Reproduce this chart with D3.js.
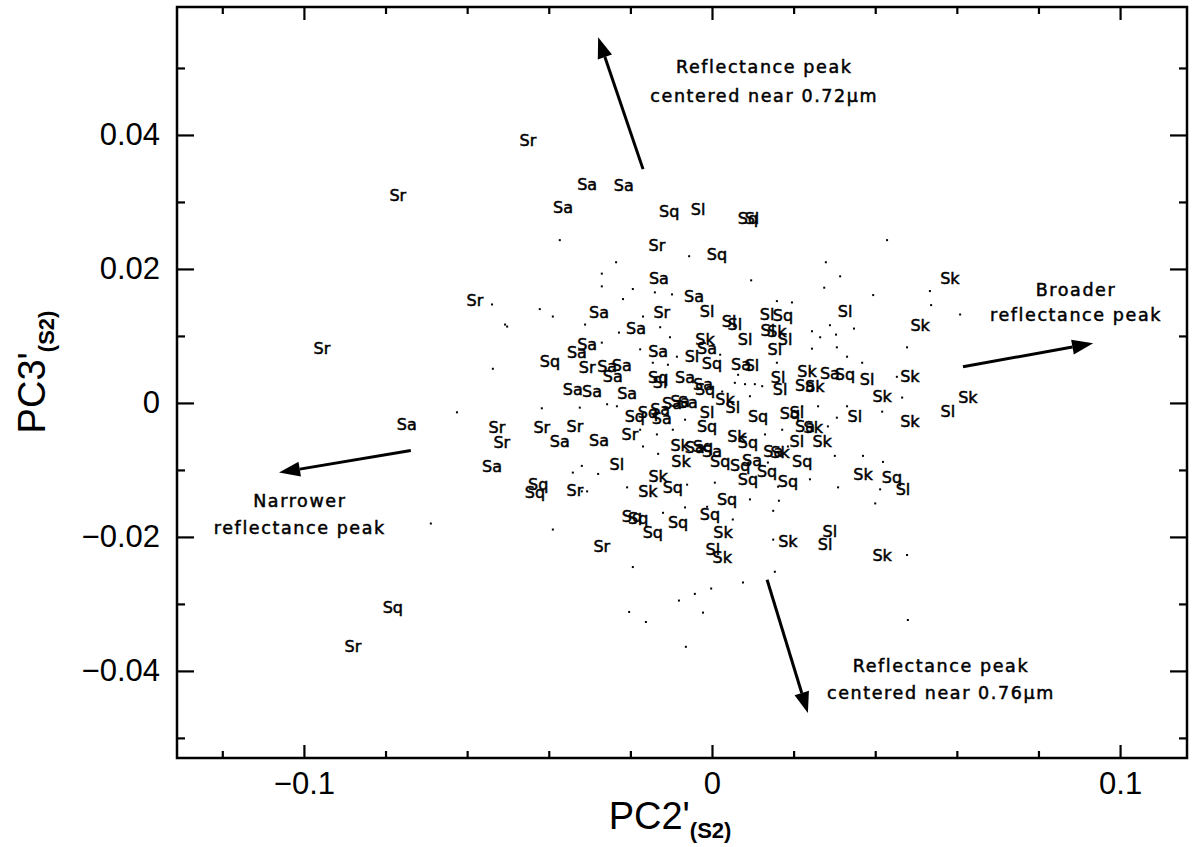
<!DOCTYPE html>
<html>
<head>
<meta charset="utf-8">
<script src="https://cdn.jsdelivr.net/npm/d3@7"></script>
<style>
  html, body { margin: 0; padding: 0; background: #fff; }
  svg { display: block; }
  .tag { font-family: "DejaVu Sans", sans-serif; font-size: 16px; fill: #000; stroke: #000; stroke-width: 0.5px; }
  .note { font-family: "DejaVu Sans", sans-serif; font-size: 17.5px; letter-spacing: 1.6px; fill: #000; stroke: #000; stroke-width: 0.5px; }
  .tick text { font-family: "Liberation Sans", Arial, sans-serif; font-size: 31px; fill: #000; }
  .title { font-family: "Liberation Sans", Arial, sans-serif; fill: #000; }
</style>
</head>
<body>
<svg id="chart" width="1192" height="847"></svg>
<script>
// PC2'(S2) / PC3'(S2) scores, grouped by spectral class
const srPoints = [
  [-0.0451, 0.0391], [-0.0770, 0.0310], [-0.0135, 0.0235], [-0.0581, 0.0153],
  [-0.0123, 0.0135], [-0.0956, 0.0081], [-0.0306, 0.0053], [-0.0527, -0.0037],
  [-0.0515, -0.0059], [-0.0417, -0.0037], [-0.0336, -0.0035], [-0.0201, -0.0047],
  [-0.0336, -0.0131], [-0.0270, -0.0215], [-0.0880, -0.0364]
];
const saPoints = [
  [-0.0306, 0.0326], [-0.0216, 0.0325], [-0.0365, 0.0291], [-0.0130, 0.0186],
  [-0.0044, 0.0159], [-0.0277, 0.0135], [-0.0186, 0.0111], [-0.0012, 0.0081],
  [-0.0306, 0.0087], [-0.0331, 0.0075], [-0.0132, 0.0077], [-0.0257, 0.0054],
  [-0.0221, 0.0056], [-0.0243, 0.0039], [0.0071, 0.0057], [0.0289, 0.0044],
  [-0.0066, 0.0038], [-0.0022, 0.0028], [-0.0341, 0.0020], [-0.0294, 0.0017],
  [-0.0208, 0.0014], [0.0228, 0.0026], [-0.0748, -0.0032], [-0.0373, -0.0058],
  [-0.0277, -0.0056], [-0.0127, -0.0010], [-0.0098, -0.0001], [-0.0078, 0.0002],
  [-0.0059, 0.0001], [-0.0123, -0.0023], [0.0228, -0.0035], [-0.0042, -0.0067],
  [0.0000, -0.0073], [0.0150, -0.0073], [-0.0539, -0.0095], [0.0098, -0.0086]
];
const sqPoints = [
  [-0.0105, 0.0286], [0.0088, 0.0276], [0.0012, 0.0222], [0.0174, 0.0131],
  [-0.0397, 0.0062], [0.0000, 0.0059], [0.0326, 0.0042], [-0.0132, 0.0038],
  [-0.0017, 0.0020], [0.0113, -0.0020], [0.0191, -0.0016], [-0.0189, -0.0020],
  [-0.0157, -0.0014], [-0.0012, -0.0035], [0.0088, -0.0059], [-0.0022, -0.0065],
  [0.0221, -0.0088], [0.0020, -0.0088], [0.0069, -0.0094], [0.0135, -0.0103],
  [0.0088, -0.0114], [0.0186, -0.0117], [0.0441, -0.0112], [-0.0096, -0.0126],
  [-0.0426, -0.0122], [-0.0434, -0.0134], [0.0037, -0.0144], [-0.0005, -0.0167],
  [-0.0196, -0.0170], [-0.0181, -0.0173], [-0.0083, -0.0179], [-0.0145, -0.0194],
  [-0.0782, -0.0306]
];
const slPoints = [
  [-0.0034, 0.0288], [0.0098, 0.0276], [-0.0012, 0.0137], [0.0135, 0.0132],
  [0.0326, 0.0137], [0.0042, 0.0122], [0.0056, 0.0117], [0.0137, 0.0108],
  [0.0081, 0.0095], [0.0179, 0.0095], [0.0154, 0.0080], [-0.0049, 0.0069],
  [0.0098, 0.0056], [0.0380, 0.0035], [0.0162, 0.0038], [-0.0127, 0.0030],
  [0.0167, 0.0020], [0.0578, -0.0013], [0.0051, -0.0007], [-0.0012, -0.0014],
  [0.0208, -0.0014], [0.0350, -0.0020], [0.0208, -0.0058], [-0.0233, -0.0092],
  [0.0468, -0.0129], [0.0289, -0.0192], [0.0277, -0.0212], [0.0002, -0.0219]
];
const skPoints = [
  [0.0583, 0.0186], [0.0510, 0.0116], [0.0159, 0.0107], [-0.0017, 0.0095],
  [0.0233, 0.0047], [0.0485, 0.0039], [0.0252, 0.0025], [0.0417, 0.0010],
  [0.0627, 0.0008], [0.0032, 0.0005], [0.0485, -0.0028], [0.0248, -0.0037],
  [0.0061, -0.0050], [0.0270, -0.0058], [-0.0078, -0.0064], [0.0167, -0.0074],
  [-0.0076, -0.0088], [0.0370, -0.0107], [-0.0132, -0.0110], [-0.0157, -0.0132],
  [0.0027, -0.0194], [0.0186, -0.0207], [0.0025, -0.0231], [0.0417, -0.0227]
];
// remaining objects, plotted as small dots
const otherPoints = [
  [-0.0373, 0.0243], [-0.0056, 0.0219], [-0.0235, 0.0210], [-0.0270, 0.0193],
  [-0.0270, 0.0174], [-0.0194, 0.0170], [-0.0140, 0.0165], [-0.0098, 0.0162],
  [-0.0539, 0.0147], [-0.0422, 0.0140], [-0.0390, 0.0129], [-0.0218, 0.0155],
  [-0.0169, 0.0129], [-0.0502, 0.0114], [-0.0311, 0.0117], [0.0429, 0.0243],
  [0.0279, 0.0210], [0.0314, 0.0189], [0.0096, 0.0183], [0.0275, 0.0172],
  [0.0395, 0.0161], [0.0534, 0.0167], [0.0537, 0.0146], [0.0608, 0.0132],
  [0.0159, 0.0152], [0.0196, 0.0150], [0.0245, 0.0107], [0.0289, 0.0116],
  [0.0348, 0.0111], [0.0304, 0.0102], [0.0265, 0.0098], [0.0478, 0.0083],
  [0.0306, 0.0083], [0.0245, 0.0081], [0.0331, 0.0069], [0.0368, 0.0060],
  [0.0453, 0.0039], [0.0466, 0.0008], [0.0331, -0.0005], [0.0417, -0.0013],
  [0.0306, -0.0022], [0.0284, -0.0035], [0.0301, -0.0079], [0.0370, -0.0079],
  [0.0419, -0.0088], [0.0309, -0.0126], [0.0412, -0.0129], [0.0400, -0.0150],
  [0.0240, -0.0114], [0.0478, -0.0227], [0.0150, -0.0161], [0.0164, -0.0146],
  [0.0093, -0.0144], [0.0150, -0.0204], [-0.0507, 0.0117], [-0.0228, 0.0105],
  [-0.0270, 0.0090], [-0.0537, 0.0051], [-0.0625, -0.0014], [-0.0417, -0.0008],
  [-0.0324, -0.0007], [-0.0257, -0.0002], [-0.0390, -0.0189], [-0.0194, -0.0245],
  [-0.0341, -0.0104], [-0.0279, -0.0106], [-0.0208, -0.0126], [-0.0169, -0.0065],
  [-0.0132, -0.0076], [-0.0061, -0.0122], [-0.0120, -0.0164], [-0.0066, -0.0156],
  [-0.0319, -0.0094], [-0.0319, -0.0132], [-0.0306, -0.0132], [-0.0176, 0.0080],
  [-0.0145, 0.0060], [-0.0108, 0.0057], [-0.0086, 0.0069], [-0.0103, 0.0098],
  [-0.0127, 0.0113], [0.0154, -0.0252], [0.0076, -0.0268], [-0.0002, -0.0277],
  [-0.0042, -0.0285], [-0.0081, -0.0295], [-0.0203, -0.0312], [-0.0162, -0.0327],
  [-0.0022, -0.0313], [-0.0064, -0.0364], [0.0480, -0.0324], [-0.0689, -0.0180],
  [0.0056, 0.0030], [0.0081, 0.0028], [0.0105, 0.0028], [0.0123, 0.0025],
  [0.0064, 0.0042], [0.0025, 0.0017], [0.0093, 0.0010], [0.0020, 0.0072],
  [0.0159, 0.0060], [0.0240, 0.0050], [0.0221, -0.0005], [0.0260, -0.0005],
  [0.0172, -0.0040], [0.0130, -0.0047], [0.0186, -0.0065], [0.0137, -0.0089],
  [0.0162, -0.0125], [0.0007, -0.0119], [-0.0012, -0.0155], [0.0051, -0.0174],
  [-0.0066, -0.0025], [-0.0096, -0.0040], [-0.0135, -0.0047], [-0.0176, -0.0040],
  [-0.0233, -0.0005]
];

// axis ticks
const xMajorTicks = [-0.1, 0, 0.1];
const xTickLabels = ["\u22120.1", "0", "0.1"];
const xMinorTicks = [-0.12, -0.08, -0.06, -0.04, -0.02, 0.02, 0.04, 0.06, 0.08];
const yMajorTicks = [0.04, 0.02, 0, -0.02, -0.04];
const yTickLabels = ["0.04", "0.02", "0", "\u22120.02", "\u22120.04"];
const yMinorTicks = [0.05, 0.03, 0.01, -0.01, -0.03, -0.05];

// direction arrows: [from, to] in PC2'/PC3' units, with their captions
const arrows = [
  { from: [-0.0169, 0.0349], to: [-0.0279, 0.0546], text: ["Reflectance peak", "centered near 0.72\u03bcm"], at: [0.0128, 0.0501, 0.0458] },
  { from: [0.0615, 0.0054], to: [0.0934, 0.0089], text: ["Broader", "reflectance peak"], at: [0.0892, 0.0168, 0.0131] },
  { from: [-0.0738, -0.0071], to: [-0.1061, -0.0104], text: ["Narrower", "reflectance peak"], at: [-0.1010, -0.0146, -0.0186] },
  { from: [0.0135, -0.0264], to: [0.0235, -0.0463], text: ["Reflectance peak", "centered near 0.76\u03bcm"], at: [0.0561, -0.0393, -0.0433] }
];

const svg = d3.select("#chart");
const x = d3.scaleLinear().domain([-0.1311, 0.1164]).range([177, 1187]);
const y = d3.scaleLinear().domain([-0.0530, 0.0591]).range([758, 7]);
const [x0, x1] = x.range();
const [y0, y1] = y.range();

const fmtFrom = (vals, labels) => d => labels[vals.indexOf(d)];

function styleAxis(g) {
  g.select(".domain").remove();
  g.selectAll(".tick line").attr("stroke", "#000").attr("stroke-width", 2.2);
}

// bottom
svg.append("g").attr("transform", `translate(0,${y0})`)
  .call(d3.axisBottom(x).tickValues(xMajorTicks).tickSize(-13).tickPadding(14)
    .tickFormat(fmtFrom(xMajorTicks, xTickLabels)))
  .call(styleAxis);
svg.append("g").attr("transform", `translate(0,${y0})`)
  .call(d3.axisBottom(x).tickValues(xMinorTicks).tickSize(-7).tickFormat(""))
  .call(styleAxis);
// top
svg.append("g").attr("transform", `translate(0,${y1})`)
  .call(d3.axisTop(x).tickValues(xMajorTicks).tickSize(-13).tickFormat(""))
  .call(styleAxis);
svg.append("g").attr("transform", `translate(0,${y1})`)
  .call(d3.axisTop(x).tickValues(xMinorTicks).tickSize(-7).tickFormat(""))
  .call(styleAxis);
// left
svg.append("g").attr("transform", `translate(${x0},0)`)
  .call(d3.axisLeft(y).tickValues(yMajorTicks).tickSize(-17).tickPadding(17)
    .tickFormat(fmtFrom(yMajorTicks, yTickLabels)))
  .call(styleAxis);
svg.append("g").attr("transform", `translate(${x0},0)`)
  .call(d3.axisLeft(y).tickValues(yMinorTicks).tickSize(-8).tickFormat(""))
  .call(styleAxis);
// right
svg.append("g").attr("transform", `translate(${x1},0)`)
  .call(d3.axisRight(y).tickValues(yMajorTicks).tickSize(-17).tickFormat(""))
  .call(styleAxis);
svg.append("g").attr("transform", `translate(${x1},0)`)
  .call(d3.axisRight(y).tickValues(yMinorTicks).tickSize(-8).tickFormat(""))
  .call(styleAxis);

// frame
svg.append("rect")
  .attr("x", x0).attr("y", y1).attr("width", x1 - x0).attr("height", y0 - y1)
  .attr("fill", "none").attr("stroke", "#000").attr("stroke-width", 2.5);

// axis titles
const xt = svg.append("text").attr("class", "title")
  .attr("x", 670).attr("y", 829).attr("text-anchor", "middle");
xt.append("tspan").attr("font-size", 38).text("PC2'");
xt.append("tspan").attr("font-size", 22).attr("font-weight", "bold").attr("dy", 9).text("(S2)");

const yt = svg.append("text").attr("class", "title")
  .attr("transform", "translate(45,372) rotate(-90)").attr("text-anchor", "middle");
yt.append("tspan").attr("font-size", 38).text("PC3'");
yt.append("tspan").attr("font-size", 22).attr("font-weight", "bold").attr("dy", 9).text("(S2)");

// unlabelled objects
svg.append("g").selectAll("rect").data(otherPoints).join("rect")
  .attr("x", d => x(d[0]) - 1).attr("y", d => y(d[1]) - 1)
  .attr("width", 2).attr("height", 2).attr("fill", "#000");

// class tags drawn at each object's position
const classes = [
  ["Sr", srPoints], ["Sa", saPoints], ["Sq", sqPoints], ["Sl", slPoints], ["Sk", skPoints]
];
classes.forEach(([name, pts]) => {
  svg.append("g").selectAll("text").data(pts).join("text")
    .attr("class", "tag")
    .attr("x", d => x(d[0])).attr("y", d => y(d[1]))
    .attr("text-anchor", "middle").attr("dominant-baseline", "central")
    .text(name);
});

// arrows
const head = 21, half = 7.5;
arrows.forEach(a => {
  const sx = x(a.from[0]), sy = y(a.from[1]);
  const ex = x(a.to[0]), ey = y(a.to[1]);
  const ang = Math.atan2(ey - sy, ex - sx);
  const bx = ex - head * Math.cos(ang), by = ey - head * Math.sin(ang);
  svg.append("line")
    .attr("x1", sx).attr("y1", sy).attr("x2", bx).attr("y2", by)
    .attr("stroke", "#000").attr("stroke-width", 3);
  const px = -Math.sin(ang) * half, py = Math.cos(ang) * half;
  svg.append("path")
    .attr("d", `M${ex},${ey}L${bx + px},${by + py}L${bx - px},${by - py}Z`)
    .attr("fill", "#000");
  a.text.forEach((t, i) => {
    svg.append("text").attr("class", "note")
      .attr("x", x(a.at[0])).attr("y", y(a.at[1 + i]))
      .attr("text-anchor", "middle").attr("dominant-baseline", "central")
      .text(t);
  });
});
</script>
</body>
</html>
